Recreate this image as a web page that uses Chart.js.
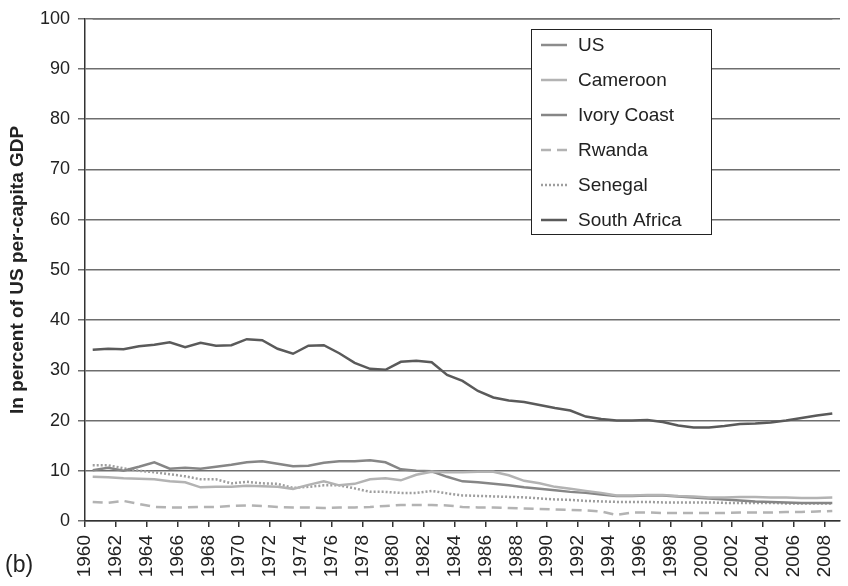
<!DOCTYPE html>
<html>
<head>
<meta charset="utf-8">
<script src="https://cdn.jsdelivr.net/npm/chart.js@4/dist/chart.umd.min.js"></script>
<style>
  html, body { margin:0; padding:0; background:#fff; }
  #wrap { position:relative; width:848px; height:586px; }
  #panel { position:absolute; left:5px; top:551px; font:23px "Liberation Sans", Arial, sans-serif; color:#222; }
</style>
</head>
<body>
<div id="wrap">
  <canvas id="chart" width="848" height="586"></canvas>
  <div id="panel">(b)</div>
</div>
<script>
// years on the category axis
const years = [1960,1961,1962,1963,1964,1965,1966,1967,1968,1969,
               1970,1971,1972,1973,1974,1975,1976,1977,1978,1979,
               1980,1981,1982,1983,1984,1985,1986,1987,1988,1989,
               1990,1991,1992,1993,1994,1995,1996,1997,1998,1999,
               2000,2001,2002,2003,2004,2005,2006,2007,2008];

// percent of US per-capita GDP
const us = [100,100,100,100,100,100,100,100,100,100,
            100,100,100,100,100,100,100,100,100,100,
            100,100,100,100,100,100,100,100,100,100,
            100,100,100,100,100,100,100,100,100,100,
            100,100,100,100,100,100,100,100,100];
const cameroon = [8.8,8.7,8.5,8.4,8.3,7.9,7.7,6.7,6.8,6.8,
                  7.0,6.9,6.8,6.4,7.2,7.9,7.1,7.4,8.3,8.5,
                  8.1,9.2,9.8,9.7,9.7,9.8,9.8,9.1,8.0,7.5,
                  6.8,6.4,6.0,5.6,5.1,5.1,5.2,5.2,5.0,4.9,
                  4.7,4.7,4.8,4.8,4.7,4.7,4.6,4.6,4.7];
const ivoryCoast = [10.1,10.6,10.0,10.8,11.7,10.4,10.6,10.4,10.8,11.2,
                    11.7,11.9,11.4,10.9,11.0,11.6,11.9,11.9,12.1,11.7,
                    10.3,10.0,9.9,8.8,7.9,7.7,7.4,7.1,6.7,6.4,
                    6.1,5.8,5.6,5.3,5.0,5.0,5.1,5.1,4.9,4.7,
                    4.5,4.3,4.1,3.9,3.8,3.7,3.6,3.6,3.6];
const rwanda = [3.8,3.6,4.0,3.4,2.8,2.7,2.7,2.8,2.8,3.0,
                3.1,3.0,2.8,2.7,2.7,2.6,2.7,2.7,2.8,3.0,
                3.2,3.2,3.2,3.1,2.8,2.7,2.7,2.6,2.5,2.4,
                2.3,2.2,2.1,1.9,1.2,1.7,1.7,1.6,1.6,1.6,
                1.6,1.6,1.7,1.7,1.7,1.8,1.8,1.9,2.0];
const senegal = [11.1,11.1,10.5,10.0,9.7,9.3,8.9,8.3,8.3,7.5,
                 7.8,7.5,7.4,6.6,6.8,7.1,7.1,6.5,5.8,5.8,
                 5.6,5.6,6.0,5.5,5.1,5.0,4.9,4.8,4.7,4.5,
                 4.3,4.2,4.0,3.9,3.8,3.8,3.8,3.7,3.7,3.7,
                 3.7,3.6,3.6,3.6,3.6,3.5,3.5,3.5,3.5];
const southAfrica = [34.1,34.3,34.2,34.8,35.1,35.6,34.6,35.5,34.9,35.0,
                     36.2,36.0,34.3,33.3,34.9,35.0,33.4,31.5,30.3,30.1,
                     31.7,31.9,31.6,29.1,27.9,25.9,24.6,24.0,23.7,23.1,
                     22.5,22.0,20.8,20.3,20.0,20.0,20.1,19.7,19.0,18.6,
                     18.6,18.9,19.3,19.4,19.6,20.0,20.5,21.0,21.4];

const FONT = '"Liberation Sans", Arial, sans-serif';

// legend box drawn inside the plot, like the original
const boxLegend = {
  id: 'boxLegend',
  afterDraw(chart) {
    const ctx = chart.ctx;
    const x = 531, y = 29, w = 180, h = 205;
    ctx.save();
    ctx.fillStyle = '#fff';
    ctx.fillRect(x, y, w, h);
    ctx.strokeStyle = '#222';
    ctx.lineWidth = 1;
    ctx.strokeRect(x + 0.5, y + 0.5, w, h);
    chart.data.datasets.forEach((ds, i) => {
      const ly = 45 + i * 35;
      ctx.strokeStyle = ds.borderColor;
      ctx.lineWidth = ds.borderWidth;
      ctx.setLineDash(ds.borderDash || []);
      ctx.beginPath();
      ctx.moveTo(541, ly);
      ctx.lineTo(567, ly);
      ctx.stroke();
      ctx.setLineDash([]);
      ctx.fillStyle = '#222';
      ctx.font = '19px ' + FONT;
      ctx.textBaseline = 'middle';
      ctx.fillText(ds.label, 578, ly + 1);
    });
    ctx.restore();
  }
};

const line = (label, data, color, dash) => ({
  label, data,
  borderColor: color, borderWidth: 2.5, borderDash: dash || [],
  pointRadius: 0, tension: 0, fill: false
});

new Chart(document.getElementById('chart'), {
  type: 'line',
  data: {
    labels: years,
    datasets: [
      line('US', us, '#8c8c8c'),
      line('Cameroon', cameroon, '#b3b3b3'),
      line('Ivory Coast', ivoryCoast, '#868686'),
      line('Rwanda', rwanda, '#b3b3b3', [10, 6]),
      line('Senegal', senegal, '#9e9e9e', [2, 2]),
      line('South Africa', southAfrica, '#5a5a5a')
    ]
  },
  options: {
    responsive: false,
    animation: false,
    layout: { padding: { top: 16, right: 8, left: 0, bottom: 0 } },
    plugins: { legend: { display: false }, tooltip: { enabled: false } },
    scales: {
      x: {
        type: 'category',
        offset: true,
        // fixed height, no extra side padding for the rotated labels
        afterFit(s) { s.height = 65; s.paddingLeft = 0; s.paddingRight = 0; },
        grid: {
          offset: true,
          drawOnChartArea: false,
          tickLength: 6,
          lineWidth: 1.5,
          color: c => (c.index % 2 === 0 ? '#333' : 'rgba(0,0,0,0)')
        },
        border: { color: '#333', width: 1.5 },
        ticks: {
          autoSkip: false,
          minRotation: 90, maxRotation: 90,
          padding: 8,
          labelOffset: -7.7,
          color: '#222',
          font: { family: FONT, size: 19 },
          callback(v, i) { return i % 2 === 0 ? this.getLabelForValue(v) : ''; }
        }
      },
      y: {
        min: 0, max: 100,
        afterFit(s) { s.width = 85; },
        grid: { color: '#6e6e6e', lineWidth: 1.5, tickLength: 7 },
        border: { color: '#333', width: 1.5 },
        ticks: {
          stepSize: 10,
          padding: 8,
          color: '#222',
          font: { family: FONT, size: 18 }
        },
        title: {
          display: true,
          text: 'In percent of US per-capita GDP',
          color: '#222',
          padding: { top: 6, bottom: 0 },
          font: { family: FONT, size: 19, weight: 'bold' }
        }
      }
    }
  },
  plugins: [boxLegend]
});
</script>
</body>
</html>
